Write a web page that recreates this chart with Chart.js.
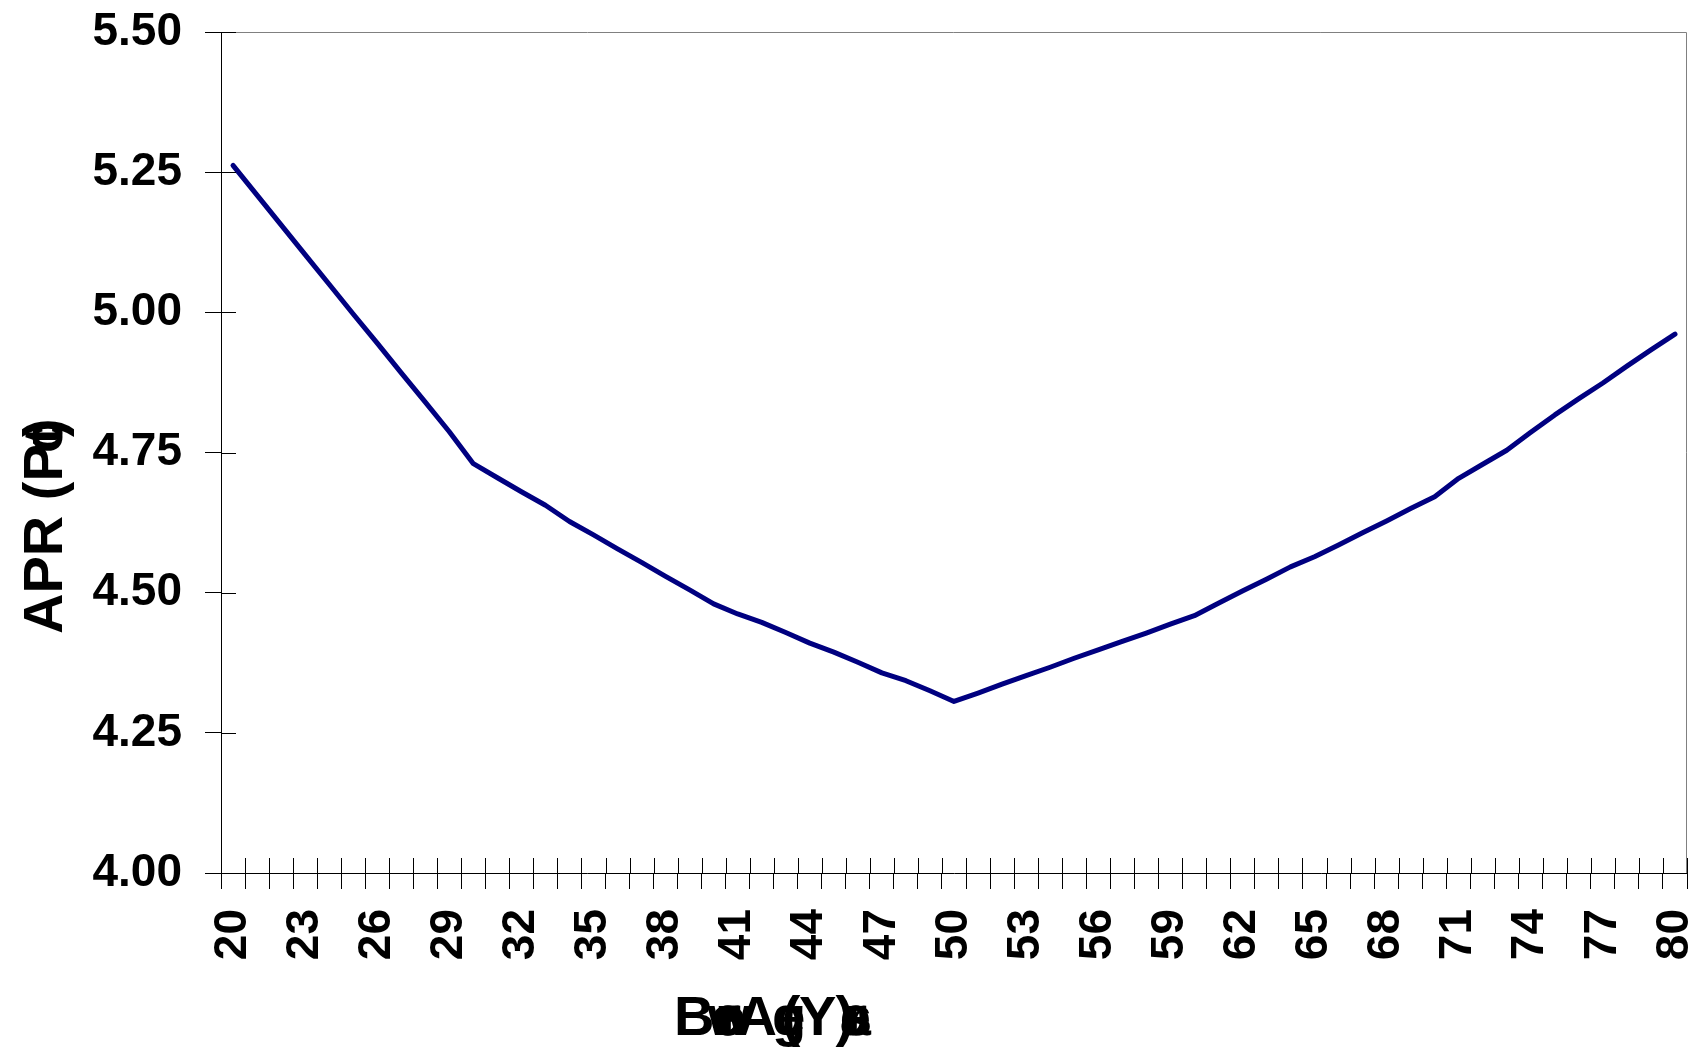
<!DOCTYPE html>
<html>
<head>
<meta charset="utf-8">
<script src="https://cdn.jsdelivr.net/npm/chart.js@4.4.1/dist/chart.umd.min.js"></script>
<style>
  html, body { margin: 0; padding: 0; background: #fff; }
  canvas { display: block; }
</style>
</head>
<body>
<canvas id="c" width="1698" height="1052"></canvas>
<script>
// Borrower age, 20 through 80
const ages = [20,21,22,23,24,25,26,27,28,29,30,31,32,33,34,35,36,37,38,39,40,
              41,42,43,44,45,46,47,48,49,50,51,52,53,54,55,56,57,58,59,60,
              61,62,63,64,65,66,67,68,69,70,71,72,73,74,75,76,77,78,79,80];

// APR (percent) by borrower age
const apr = [5.262,5.209,5.156,5.103,5.050,4.997,4.945,4.892,4.840,4.787,4.730,
             4.705,4.680,4.656,4.627,4.603,4.578,4.554,4.529,4.505,4.480,
             4.462,4.447,4.429,4.410,4.394,4.376,4.357,4.343,4.325,4.306,
             4.321,4.337,4.352,4.367,4.383,4.398,4.413,4.428,4.444,4.459,
             4.481,4.503,4.524,4.546,4.564,4.585,4.607,4.628,4.650,4.671,
             4.704,4.729,4.754,4.786,4.817,4.846,4.874,4.904,4.933,4.961];

// Y axis range and tick spacing
const yMin = 4.00;
const yMax = 5.50;
const yStep = 0.25;

// Every third age gets a printed label
const labelEvery = 3;

const FONT = '"Liberation Sans", Arial, sans-serif';

// Plot frame plus tick marks that cross the axis lines
const frameAndTicks = {
  id: 'frameAndTicks',
  beforeDatasetsDraw(chart) {
    const { ctx, chartArea: a } = chart;
    ctx.save();
    ctx.strokeStyle = '#808080';
    ctx.lineWidth = 1;
    ctx.beginPath();
    ctx.moveTo(a.left, a.top + 0.5);
    ctx.lineTo(a.right - 0.5, a.top + 0.5);
    ctx.lineTo(a.right - 0.5, a.bottom);
    ctx.stroke();
    ctx.restore();
  },
  afterDatasetsDraw(chart) {
    const { ctx, chartArea: a, scales } = chart;
    const inner = 15;
    ctx.save();
    ctx.strokeStyle = '#000';
    ctx.lineWidth = 1;
    ctx.beginPath();
    const ys = scales.y;
    ys.ticks.forEach((t, i) => {
      const py = Math.round(ys.getPixelForTick(i)) + 0.5;
      ctx.moveTo(a.left, py);
      ctx.lineTo(a.left + inner, py);
    });
    const xs = scales.x;
    for (let i = 0; i <= ages.length; i++) {
      const px = Math.round(xs.getPixelForValue(i - 0.5)) + 0.5;
      ctx.moveTo(px, a.bottom);
      ctx.lineTo(px, a.bottom - inner);
    }
    ctx.stroke();
    ctx.restore();
  }
};

// Axis titles, drawn glyph run by glyph run
function drawRuns(ctx, runs, k) {
  runs.forEach(([txt, off]) => ctx.fillText(txt, off * k, 0));
}
const axisTitles = {
  id: 'axisTitles',
  afterDraw(chart) {
    const { ctx, chartArea: a } = chart;
    const size = 56;
    const k = size / 52;
    ctx.save();
    ctx.fillStyle = '#000';
    ctx.font = 'bold ' + size + 'px ' + FONT;
    ctx.textBaseline = 'alphabetic';
    ctx.textAlign = 'left';

    // x title
    ctx.save();
    ctx.translate(a.left + 453, chart.height - 17);
    drawRuns(ctx, [
      ['B', 0],
      ['o', 34], ['r', 38], ['r', 41], ['o', 35], ['w', 31], ['e', 35], ['r', 42],
      ['A', 58],
      ['g', 91], ['e', 93],
      ['(', 100],
      ['Y', 116],
      [')', 150], ['e', 154], ['a', 154], ['r', 159], ['s', 155]
    ], k);
    ctx.restore();

    // y title
    ctx.save();
    ctx.translate(62, a.top + 602);
    ctx.rotate(-Math.PI / 2);
    drawRuns(ctx, [
      ['APR (P', 0],
      ['c', 168], ['t', 176], [')', 183]
    ], k);
    ctx.restore();

    ctx.restore();
  }
};

new Chart(document.getElementById('c'), {
  type: 'line',
  data: {
    labels: ages,
    datasets: [{
      data: apr,
      borderColor: '#000080',
      borderWidth: 5,
      pointRadius: 0,
      pointHoverRadius: 0,
      tension: 0,
      fill: false,
      borderCapStyle: 'round',
      borderJoinStyle: 'round'
    }]
  },
  options: {
    responsive: false,
    animation: false,
    devicePixelRatio: 1,
    layout: { padding: { left: 92, right: 11, top: 32, bottom: 89 } },
    plugins: { legend: { display: false }, tooltip: { enabled: false } },
    scales: {
      x: {
        type: 'category',
        offset: true,
        afterFit(scale) {
          scale.height = 90;
          scale.paddingLeft = 0;
          scale.paddingRight = 0;
        },
        grid: {
          display: true, drawOnChartArea: false, drawTicks: true,
          tickLength: 16, tickColor: '#000', offset: true
        },
        border: { display: true, color: '#000', width: 1 },
        ticks: {
          autoSkip: false, maxRotation: 90, minRotation: 90,
          color: '#000', padding: 20,
          font: { family: FONT, size: 46, weight: 'bold' },
          callback: (v, i) => (i % labelEvery === 0 ? String(ages[i]) : '')
        }
      },
      y: {
        min: yMin, max: yMax,
        afterFit(scale) {
          scale.width = 129;
          scale.paddingTop = 0;
          scale.paddingBottom = 0;
        },
        grid: {
          display: true, drawOnChartArea: false, drawTicks: true,
          tickLength: 16, tickColor: '#000'
        },
        border: { display: true, color: '#000', width: 1 },
        ticks: {
          stepSize: yStep, color: '#000', padding: 23,
          font: { family: FONT, size: 46, weight: 'bold' },
          callback: (v) => Number(v).toFixed(2)
        }
      }
    }
  },
  plugins: [frameAndTicks, axisTitles]
});
</script>
</body>
</html>
